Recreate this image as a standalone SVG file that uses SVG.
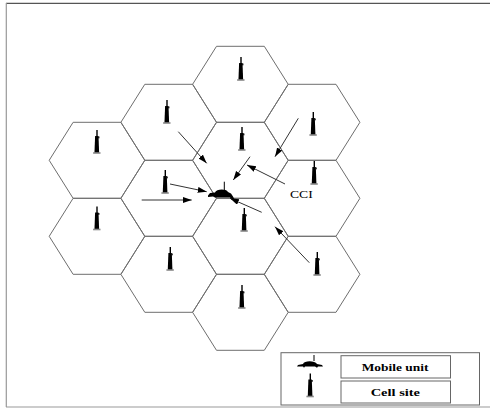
<svg xmlns="http://www.w3.org/2000/svg" xmlns:xlink="http://www.w3.org/1999/xlink" width="490" height="409" viewBox="0 0 490 409">
<style>
.hex{fill:none;stroke:#6e6e6e;stroke-width:1}
.arrow{fill:none;stroke:#333;stroke-width:1;marker-end:url(#ah)}
.lbl{font-family:"Liberation Serif","Times New Roman",serif;fill:#000}
.box{fill:#fff;stroke:#666;stroke-width:1}
</style>
<defs>
<marker id="ah" markerUnits="userSpaceOnUse" markerWidth="10" markerHeight="7" refX="9" refY="3" orient="auto">
<path d="M0,0 L9,3 L0,6 Z" fill="#000"/>
</marker>
<polygon id="hexshape" points="-47.8,0 -23.9,-38 23.9,-38 47.8,0 23.9,38 -23.9,38"/>
<g id="tower">
<line x1="0.3" y1="-23" x2="0.3" y2="-15" stroke="#000" stroke-width="1.4"/>
<polygon points="-1.6,-17 1.8,-17 2.4,-1 2.4,0 -2.2,0 -2.2,-1" fill="#000"/>
<rect x="1.5" y="-16.5" width="1.2" height="1.8" fill="#000"/>
<line x1="-3.6" y1="0" x2="3.8" y2="0" stroke="#888" stroke-width="1.6"/>
</g>
<g id="car">
<path d="M-13,2.5 L-12,1 L-7,0 C-6,-3.8 5,-3.8 7,0 L12,1 L13,2.5 L8,2.5 L7,3.7 L5,2.5 L-5,2.5 L-6,3.7 L-7,2.5 Z" fill="#000"/>
<line x1="4" y1="-3" x2="4" y2="-9" stroke="#000" stroke-width="1"/>
</g>
<path id="blob" d="M-13,2 L-11,-0.5 L-6,-1 C-5,-4.5 5,-5 7,-1.5 L10,0 L12,3 L13.5,6 L11,6.5 L9,4 L-6,4 L-8,3 L-13,3.5 Z" fill="#000"/>
</defs>
<rect width="490" height="409" fill="#fff"/>
<g id="frame">
<line x1="6" y1="3.3" x2="490" y2="3.3" stroke="#555" stroke-width="1.3"/>
<line x1="6.3" y1="3" x2="6.3" y2="407" stroke="#999" stroke-width="1.2"/>
<line x1="6" y1="407" x2="490" y2="407" stroke="#999" stroke-width="1.2"/>
</g>
<g id="cell-A1"><use xlink:href="#hexshape" class="hex" transform="translate(97,160.3)"/><use xlink:href="#tower" transform="translate(96.7,153)"/></g>
<g id="cell-A2"><use xlink:href="#hexshape" class="hex" transform="translate(97,236.3)"/><use xlink:href="#tower" transform="translate(96.7,229.5)"/></g>
<g id="cell-B1"><use xlink:href="#hexshape" class="hex" transform="translate(168.7,122.3)"/><use xlink:href="#tower" transform="translate(166.7,123)"/></g>
<g id="cell-B2"><use xlink:href="#hexshape" class="hex" transform="translate(168.7,198.3)"/><use xlink:href="#tower" transform="translate(165,193)"/></g>
<g id="cell-B3"><use xlink:href="#hexshape" class="hex" transform="translate(168.7,274.3)"/><use xlink:href="#tower" transform="translate(170,270)"/></g>
<g id="cell-C1"><use xlink:href="#hexshape" class="hex" transform="translate(240.4,84.3)"/><use xlink:href="#tower" transform="translate(240.7,80)"/></g>
<g id="cell-C2"><use xlink:href="#hexshape" class="hex" transform="translate(240.4,160.3)"/><use xlink:href="#tower" transform="translate(241.7,150)"/></g>
<g id="cell-C3"><use xlink:href="#hexshape" class="hex" transform="translate(240.4,236.3)"/><use xlink:href="#tower" transform="translate(244,231)"/></g>
<g id="cell-C4"><use xlink:href="#hexshape" class="hex" transform="translate(240.4,312.3)"/><use xlink:href="#tower" transform="translate(241.7,308)"/></g>
<g id="cell-D1"><use xlink:href="#hexshape" class="hex" transform="translate(312.1,122.3)"/><use xlink:href="#tower" transform="translate(313,135)"/></g>
<g id="cell-D2"><use xlink:href="#hexshape" class="hex" transform="translate(312.1,198.3)"/><use xlink:href="#tower" transform="translate(314,184)"/></g>
<g id="cell-D3"><use xlink:href="#hexshape" class="hex" transform="translate(312.1,274.3)"/><use xlink:href="#tower" transform="translate(317,275)"/></g>
<g id="mobile-unit">
<use xlink:href="#blob" transform="translate(221,193.5)"/>
<line x1="224.3" y1="181.7" x2="224.3" y2="190" stroke="#000" stroke-width="1"/>
</g>
<g id="connectors">
<line class="arrow" x1="178.3" y1="131.7" x2="206.7" y2="163.3"/>
<line class="arrow" x1="298.3" y1="118.3" x2="275" y2="156.7"/>
<line class="arrow" x1="250" y1="156.7" x2="233.3" y2="180"/>
<line class="arrow" x1="285" y1="184" x2="247" y2="165"/>
<line class="arrow" x1="170" y1="184" x2="206.7" y2="191.7"/>
<line class="arrow" x1="141.7" y1="200" x2="191.7" y2="200"/>
<line class="arrow" x1="261.7" y1="212.3" x2="230" y2="198.3"/>
<line class="arrow" x1="309.3" y1="262.7" x2="275" y2="226.7"/>
</g>
<g id="cci-label"><text class="lbl" x="290" y="198.3" font-size="10.5" textLength="22.7" lengthAdjust="spacingAndGlyphs">CCI</text></g>
<g id="legend">
<rect class="box" x="281" y="352.7" width="198.5" height="52.3"/>
<use xlink:href="#car" transform="translate(310,364)"/>
<use xlink:href="#tower" transform="translate(310,396.5)"/>
<g id="legend-mobile">
<rect class="box" x="341" y="355.7" width="109.5" height="22.3"/>
<text class="lbl" x="361.7" y="370.5" font-size="11" font-weight="bold" textLength="66.7" lengthAdjust="spacingAndGlyphs">Mobile unit</text>
</g>
<g id="legend-cell">
<rect class="box" x="341" y="381" width="109.5" height="22"/>
<text class="lbl" x="370.7" y="395.5" font-size="11" font-weight="bold" textLength="49.3" lengthAdjust="spacingAndGlyphs">Cell site</text>
</g>
</g>
</svg>
